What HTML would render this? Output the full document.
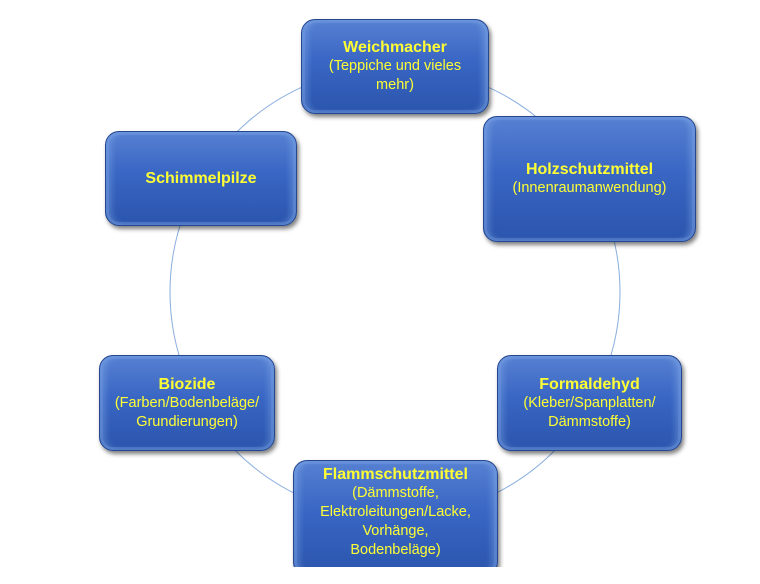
<!DOCTYPE html>
<html><head><meta charset="utf-8"><style>
body{margin:0;width:760px;height:584px;overflow:hidden;background:#fff;font-family:"Liberation Sans",sans-serif;}
.b{position:absolute;box-sizing:border-box;border-radius:14px;background:linear-gradient(#5680d2,#3966c4 45%,#2b55ad);border:1px solid #24478f;box-shadow:inset 0 0 0 3px rgba(120,160,230,.3),inset 6px 0 6px rgba(150,190,240,.3),inset -6px 0 6px rgba(150,190,240,.3),2px 3px 4px rgba(0,0,0,.5);display:flex;flex-direction:column;justify-content:center;align-items:center;text-align:center;color:#ffff33;font-size:14.5px;line-height:19px;}
.b b{font-size:16px;}
</style></head><body>
<svg width="760" height="584" style="position:absolute;left:0;top:0"><circle cx="395" cy="292" r="225" fill="none" stroke="#8aaee0" stroke-width="1"/></svg>
<div class="b" style="left:301px;top:19px;width:188px;height:95px"><b>Weichmacher</b>(Teppiche und vieles<br>mehr)</div>
<div class="b" style="left:483px;top:116px;width:213px;height:126px"><b>Holzschutzmittel</b>(Innenraumanwendung)</div>
<div class="b" style="left:105px;top:131px;width:192px;height:95px"><b>Schimmelpilze</b></div>
<div class="b" style="left:99px;top:355px;width:176px;height:96px"><b>Biozide</b>(Farben/Bodenbeläge/<br>Grundierungen)</div>
<div class="b" style="left:497px;top:355px;width:185px;height:96px"><b>Formaldehyd</b>(Kleber/Spanplatten/<br>Dämmstoffe)</div>
<div class="b" style="left:293px;top:460px;width:205px;height:116px;justify-content:flex-start;padding-top:4px"><b>Flammschutzmittel</b>(Dämmstoffe,<br>Elektroleitungen/Lacke,<br>Vorhänge,<br>Bodenbeläge)</div>
<div style="position:absolute;left:0;top:567px;width:760px;height:17px;background:#fff"></div>
</body></html>
